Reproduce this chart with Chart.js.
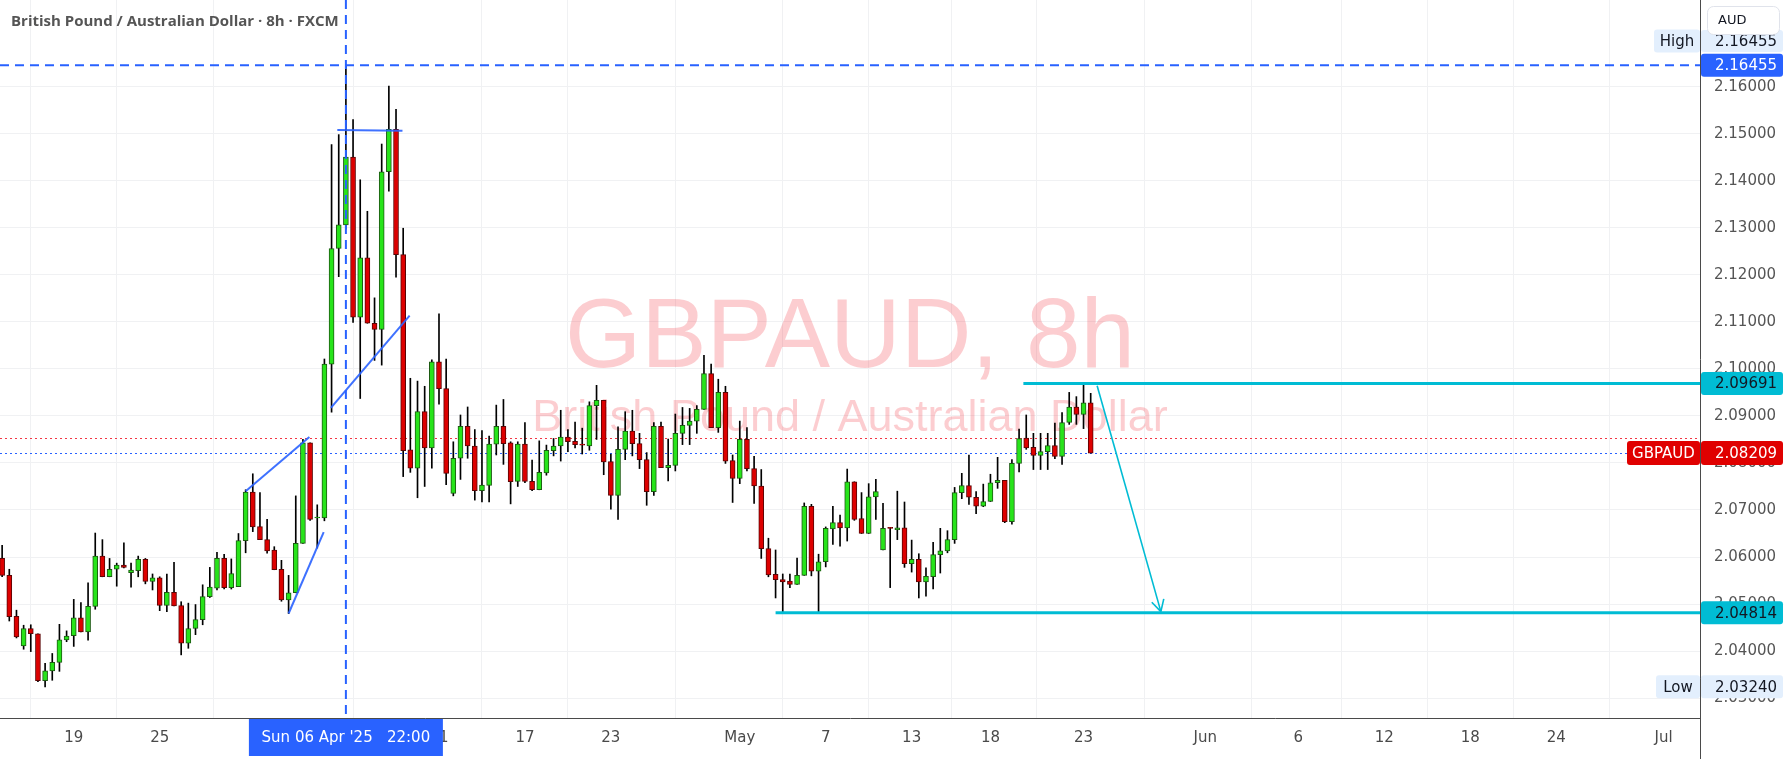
<!DOCTYPE html>
<html>
<head>
<meta charset="utf-8">
<script src="https://cdn.jsdelivr.net/npm/chart.js@4.4.0/dist/chart.umd.min.js"></script>
<style>
    html, body { margin: 0; padding: 0; background: #ffffff; overflow: hidden; }
    canvas { display: block; }
</style>
</head>
<body>
<canvas id="gestione_canva" width="1788" height="759"></canvas>
<script>
// Candele GBPAUD 8h, indice 1..153
const aperture = [
    2.0597, 2.0561, 2.0474, 2.0411, 2.0448, 2.0437, 2.0337, 2.0358, 2.0376, 2.0424,
    2.0433, 2.0471, 2.0441, 2.0495, 2.0602, 2.0558, 2.0574, 2.0583, 2.0567, 2.0571,
    2.0595, 2.0548, 2.0556, 2.0497, 2.0525, 2.0497, 2.0417, 2.0448, 2.0467, 2.0516,
    2.0534, 2.0597, 2.0535, 2.0537, 2.0635, 2.0738, 2.0665, 2.0637, 2.0615, 2.0574,
    2.0509, 2.0524, 2.0629, 2.0843, 2.0683, 2.0683, 2.1010, 2.1256, 2.1306, 2.1450,
    2.1110, 2.1236, 2.1097, 2.1084, 2.1419, 2.1509, 2.1243, 2.0828, 2.0789, 2.0909,
    2.0832, 2.1015, 2.0958, 2.0735, 2.0810, 2.0878, 2.0836, 2.0741, 2.0752, 2.0840,
    2.0878, 2.0843, 2.0761, 2.0840, 2.0761, 2.0743, 2.0779, 2.0826, 2.0836, 2.0855,
    2.0846, 2.0840, 2.0836, 2.0922, 2.0933, 2.0803, 2.0731, 2.0829, 2.0868, 2.0841,
    2.0807, 2.0739, 2.0878, 2.0790, 2.0795, 2.0863, 2.0880, 2.0889, 2.0914, 2.0990,
    2.0875, 2.0950, 2.0805, 2.0767, 2.0850, 2.0788, 2.0751, 2.0618, 2.0563, 2.0552,
    2.0549, 2.0542, 2.0561, 2.0708, 2.0570, 2.0590, 2.0660, 2.0673, 2.0662, 2.0760,
    2.0682, 2.0650, 2.0728, 2.0615, 2.0663, 2.0658, 2.0662, 2.0586, 2.0595, 2.0547,
    2.0558, 2.0605, 2.0613, 2.0637, 2.0737, 2.0752, 2.0727, 2.0708, 2.0718, 2.0758,
    2.0763, 2.0675, 2.0799, 2.0853, 2.0833, 2.0816, 2.0824, 2.0837, 2.0814, 2.0886,
    2.0919, 2.0903, 2.0928
];
const massimi = [
    2.0625, 2.0574, 2.0487, 2.0455, 2.0456, 2.0437, 2.0374, 2.0395, 2.0457, 2.0443,
    2.0510, 2.0503, 2.0545, 2.0651, 2.0637, 2.0597, 2.0587, 2.0630, 2.0587, 2.0602,
    2.0597, 2.0564, 2.0558, 2.0564, 2.0589, 2.0505, 2.0502, 2.0499, 2.0541, 2.0578,
    2.0610, 2.0606, 2.0596, 2.0650, 2.0743, 2.0777, 2.0737, 2.0680, 2.0622, 2.0593,
    2.0561, 2.0730, 2.0850, 2.0843, 2.0711, 2.1021, 2.1477, 2.1498, 2.16455, 2.1530,
    2.1402, 2.1335, 2.1151, 2.1478, 2.1601, 2.1552, 2.1299, 2.0980, 2.0974, 2.0963,
    2.1019, 2.1117, 2.1021, 2.0845, 2.0902, 2.0919, 2.0871, 2.0869, 2.0857, 2.0923,
    2.0935, 2.0845, 2.0845, 2.0886, 2.0806, 2.0847, 2.0838, 2.0852, 2.0912, 2.0871,
    2.0887, 2.0874, 2.0930, 2.0965, 2.0933, 2.0819, 2.0877, 2.0909, 2.0912, 2.0863,
    2.0822, 2.0886, 2.0887, 2.0851, 2.0904, 2.0918, 2.0916, 2.0922, 2.1029, 2.1010,
    2.0978, 2.0963, 2.0817, 2.0889, 2.0875, 2.0814, 2.0786, 2.0640, 2.0615, 2.0564,
    2.0564, 2.0598, 2.0715, 2.0712, 2.0606, 2.0664, 2.0708, 2.0689, 2.0787, 2.0760,
    2.0737, 2.0756, 2.0765, 2.0714, 2.0663, 2.0740, 2.0717, 2.0636, 2.0607, 2.0577,
    2.0631, 2.0661, 2.0656, 2.0748, 2.0778, 2.0817, 2.0739, 2.0755, 2.0776, 2.0812,
    2.0763, 2.0807, 2.0872, 2.0902, 2.0863, 2.0863, 2.0863, 2.0885, 2.0907, 2.0950,
    2.0941, 2.09691, 2.0948
];
const minimi = [
    2.0558, 2.0464, 2.0428, 2.0404, 2.0399, 2.0335, 2.0324, 2.0338, 2.0357, 2.0420,
    2.0410, 2.0441, 2.0423, 2.0489, 2.0558, 2.0558, 2.0538, 2.0577, 2.0536, 2.0558,
    2.0543, 2.0530, 2.0486, 2.0484, 2.0496, 2.0392, 2.0406, 2.0435, 2.0456, 2.0514,
    2.0530, 2.0532, 2.0532, 2.0537, 2.0609, 2.0654, 2.0637, 2.0608, 2.0573, 2.0506,
    2.0480, 2.0524, 2.0629, 2.0678, 2.0619, 2.0677, 2.0908, 2.1196, 2.1297, 2.1099,
    2.0937, 2.1097, 2.1018, 2.1008, 2.1378, 2.1195, 2.0771, 2.0780, 2.0726, 2.0750,
    2.0789, 2.0925, 2.0754, 2.0730, 2.0765, 2.0810, 2.0721, 2.0717, 2.0717, 2.0817,
    2.0797, 2.0713, 2.0750, 2.0758, 2.0741, 2.0743, 2.0774, 2.0815, 2.0804, 2.0824,
    2.0832, 2.0819, 2.0827, 2.0850, 2.0775, 2.0702, 2.0680, 2.0807, 2.0815, 2.0788,
    2.0710, 2.0731, 2.0790, 2.0762, 2.0783, 2.0839, 2.0839, 2.0863, 2.0914, 2.0875,
    2.0865, 2.0799, 2.0716, 2.0756, 2.0783, 2.0714, 2.0597, 2.0558, 2.0513, 2.04814,
    2.0535, 2.0542, 2.0561, 2.0560, 2.0483, 2.0579, 2.0627, 2.0623, 2.0634, 2.0678,
    2.0650, 2.0650, 2.0680, 2.0615, 2.0535, 2.0637, 2.0578, 2.0568, 2.0513, 2.0517,
    2.0532, 2.0566, 2.0609, 2.0629, 2.0724, 2.0712, 2.0692, 2.0707, 2.0718, 2.0746,
    2.0673, 2.0670, 2.0781, 2.0829, 2.0786, 2.0786, 2.0786, 2.0809, 2.0797, 2.0882,
    2.0882, 2.0873, 2.0821
];
const chiusure = [
    2.0561, 2.0473, 2.0430, 2.0448, 2.0437, 2.0337, 2.0358, 2.0376, 2.0424, 2.0432,
    2.0471, 2.0441, 2.0495, 2.0602, 2.0558, 2.0574, 2.0583, 2.0578, 2.0572, 2.0595,
    2.0548, 2.0556, 2.0497, 2.0525, 2.0496, 2.0417, 2.0448, 2.0467, 2.0516, 2.0536,
    2.0597, 2.0535, 2.0565, 2.0635, 2.0738, 2.0664, 2.0637, 2.0613, 2.0573, 2.0509,
    2.0524, 2.0629, 2.0843, 2.0680, 2.0684, 2.1010, 2.1256, 2.1306, 2.1450, 2.1110,
    2.1236, 2.1097, 2.1084, 2.1419, 2.1509, 2.1243, 2.0826, 2.0789, 2.0909, 2.0832,
    2.1015, 2.0958, 2.0778, 2.0810, 2.0878, 2.0836, 2.0741, 2.0753, 2.0840, 2.0878,
    2.0841, 2.0760, 2.0840, 2.0761, 2.0743, 2.0780, 2.0827, 2.0836, 2.0855, 2.0845,
    2.0839, 2.0838, 2.0922, 2.0933, 2.0802, 2.0731, 2.0829, 2.0868, 2.0841, 2.0807,
    2.0739, 2.0878, 2.0790, 2.0795, 2.0863, 2.0880, 2.0889, 2.0914, 2.0990, 2.0875,
    2.0950, 2.0804, 2.0767, 2.0850, 2.0788, 2.0751, 2.0618, 2.0562, 2.0552, 2.0547,
    2.0542, 2.0561, 2.0708, 2.0570, 2.0590, 2.0661, 2.0673, 2.0662, 2.0760, 2.0680,
    2.0650, 2.0728, 2.0739, 2.0661, 2.0661, 2.0662, 2.0586, 2.0595, 2.0547, 2.0559,
    2.0605, 2.0613, 2.0637, 2.0737, 2.0752, 2.0727, 2.0708, 2.0718, 2.0758, 2.0763,
    2.0675, 2.0799, 2.0852, 2.0832, 2.0816, 2.0824, 2.0837, 2.0814, 2.0886, 2.0919,
    2.0903, 2.0928, 2.08209
];

// asse del tempo: indice candela -> etichetta
const tickIndici = [11, 23, 38, 62, 74, 86, 104, 116, 128, 139, 152, 169, 182, 194, 206, 218, 233];
const tickEtichette = ["19", "25", "Apr", "11", "17", "23", "May", "7", "13", "18", "23", "Jun", "6", "12", "18", "24", "Jul"];
const tickPrezzi = [2.03, 2.04, 2.05, 2.06, 2.07, 2.08, 2.09, 2.10, 2.11, 2.12, 2.13, 2.14, 2.15, 2.16];

// livelli e disegni (indice, prezzo)
const massimoAssoluto = 2.16455;
const minimoAssoluto = 2.03240;
const resistenza = 2.09691;
const supporto = 2.04814;
const ultimoPrezzo = 2.08209;
const lineaRossa = 2.0853;
const indiceCrosshair = 49;
const trendline = [
    [35, 2.0740, 43.9, 2.0855],
    [41, 2.0480, 45.9, 2.0653],
    [46.9, 2.0917, 57.9, 2.1113],
    [47.8, 2.1508, 56.9, 2.1506]
];
const inizioResistenza = 143.6;
const inizioSupporto = 109;
const freccia = [153.9, 2.0964, 162.8, 2.0484];

const verde = "#27e41a", bordoVerde = "#1c5a12";
const rosso = "#dd0000", bordoRosso = "#5a0404";
const fontAssi = "15px 'DejaVu Sans'";

let corpi = [];
let stoppini = [];
for (let i = 0; i < aperture.length; i++) {
    corpi.push({x: i + 1, y: [aperture[i], chiusure[i]]});
    stoppini.push({x: i + 1, y: [minimi[i], massimi[i]]});
}

function etichetta(ctx, x, y, w, h, sfondo, testo, colore, allinea) {
    ctx.fillStyle = sfondo;
    ctx.beginPath();
    ctx.roundRect(x, y - h / 2, w, h, 3);
    ctx.fill();
    ctx.fillStyle = colore;
    ctx.font = fontAssi;
    ctx.textBaseline = "middle";
    if (allinea === "center") {
        ctx.textAlign = "center";
        ctx.fillText(testo, x + w / 2, y + 1);
    } else {
        ctx.textAlign = "left";
        ctx.fillText(testo, x + 14, y + 1);
    }
}

function linea(ctx, x1, y1, x2, y2) {
    ctx.beginPath();
    ctx.moveTo(x1, y1);
    ctx.lineTo(x2, y2);
    ctx.stroke();
}

const disegni = {
    id: "disegni",
    beforeDatasetsDraw(chart) {
        const ctx = chart.ctx;
        const a = chart.chartArea;
        const sy = chart.scales.y;
        ctx.save();
        // filigrana
        const cx = (a.left + a.right) / 2;
        ctx.fillStyle = "rgba(242, 54, 69, 0.25)";
        ctx.textAlign = "center";
        ctx.textBaseline = "alphabetic";
        ctx.font = "98px 'Liberation Sans'";
        ctx.fillText("GBPAUD, 8h", cx, 367);
        ctx.font = "45px 'Liberation Sans'";
        ctx.fillText("British Pound / Australian Dollar", cx, 431);
        // linee punteggiate
        ctx.lineWidth = 1;
        ctx.setLineDash([2, 3]);
        ctx.strokeStyle = "#f23645";
        let y = Math.round(sy.getPixelForValue(lineaRossa)) + 0.5;
        linea(ctx, a.left, y, a.right, y);
        ctx.strokeStyle = "#2962ff";
        y = Math.round(sy.getPixelForValue(ultimoPrezzo)) + 0.5;
        linea(ctx, a.left, y, a.right, y);
        ctx.restore();
    },
    afterDatasetsDraw(chart) {
        const ctx = chart.ctx;
        const a = chart.chartArea;
        const sx = chart.scales.x, sy = chart.scales.y;
        ctx.save();
        ctx.beginPath();
        ctx.rect(a.left, a.top, a.right - a.left, a.bottom - a.top);
        ctx.clip();

        // crosshair e massimo
        ctx.strokeStyle = "#2962ff";
        ctx.lineWidth = 2;
        ctx.setLineDash([9, 6]);
        let xc = sx.getPixelForValue(indiceCrosshair);
        linea(ctx, xc, a.top, xc, a.bottom);
        let yh = sy.getPixelForValue(massimoAssoluto);
        linea(ctx, a.left, yh, a.right, yh);
        ctx.setLineDash([]);

        // trendline blu
        ctx.strokeStyle = "rgba(41, 98, 255, 0.9)";
        ctx.lineWidth = 2;
        trendline.forEach(t => {
            linea(ctx, sx.getPixelForValue(t[0]), sy.getPixelForValue(t[1]),
                       sx.getPixelForValue(t[2]), sy.getPixelForValue(t[3]));
        });

        // livelli ciano
        ctx.strokeStyle = "#00bcd4";
        ctx.lineWidth = 3;
        let yr = sy.getPixelForValue(resistenza);
        linea(ctx, sx.getPixelForValue(inizioResistenza), yr, a.right, yr);
        let ys = sy.getPixelForValue(supporto);
        linea(ctx, sx.getPixelForValue(inizioSupporto), ys, a.right, ys);

        // freccia
        ctx.lineWidth = 1.6;
        const x1 = sx.getPixelForValue(freccia[0]), y1 = sy.getPixelForValue(freccia[1]);
        const x2 = sx.getPixelForValue(freccia[2]), y2 = sy.getPixelForValue(freccia[3]);
        linea(ctx, x1, y1, x2, y2);
        const ang = Math.atan2(y2 - y1, x2 - x1);
        const lung = 13;
        linea(ctx, x2, y2, x2 - lung * Math.cos(ang - 0.5), y2 - lung * Math.sin(ang - 0.5));
        linea(ctx, x2, y2, x2 - lung * Math.cos(ang + 0.5), y2 - lung * Math.sin(ang + 0.5));
        ctx.restore();
    },
    afterDraw(chart) {
        const ctx = chart.ctx;
        const a = chart.chartArea;
        const sx = chart.scales.x, sy = chart.scales.y;
        ctx.save();
        // prolungamento asse verticale
        ctx.strokeStyle = "#4a4a4a";
        ctx.lineWidth = 1;
        linea(ctx, a.right + 0.5, a.bottom, a.right + 0.5, chart.height);

        const ax = a.right + 1;
        const aw = 82;
        // etichette sull'asse prezzi
        etichetta(ctx, ax, 41, aw, 22, "#e3effd", "2.16455", "#131722");
        etichetta(ctx, a.right - 46, 41, 46, 23, "#e3effd", "High", "#131722", "center");
        etichetta(ctx, ax, sy.getPixelForValue(massimoAssoluto), aw, 23, "#2962ff", "2.16455", "#ffffff");
        etichetta(ctx, ax, sy.getPixelForValue(resistenza), aw, 23, "#00bcd4", "2.09691", "#131722");
        etichetta(ctx, ax, sy.getPixelForValue(ultimoPrezzo), aw, 24, "#e00000", "2.08209", "#ffffff");
        etichetta(ctx, a.right - 73, sy.getPixelForValue(ultimoPrezzo), 73, 24, "#e00000", "GBPAUD", "#ffffff", "center");
        etichetta(ctx, ax, sy.getPixelForValue(supporto), aw, 23, "#00bcd4", "2.04814", "#131722");
        etichetta(ctx, ax, sy.getPixelForValue(minimoAssoluto), aw, 23, "#e3effd", "2.03240", "#131722");
        etichetta(ctx, a.right - 44, sy.getPixelForValue(minimoAssoluto), 44, 23, "#e3effd", "Low", "#131722", "center");

        // riquadro valuta
        ctx.fillStyle = "#ffffff";
        ctx.strokeStyle = "#e0e3eb";
        ctx.beginPath();
        ctx.roundRect(1707.5, 6.5, 72, 28, 6);
        ctx.fill();
        ctx.stroke();
        ctx.fillStyle = "#131722";
        ctx.font = "13px 'DejaVu Sans'";
        ctx.textAlign = "left";
        ctx.textBaseline = "middle";
        ctx.fillText("AUD", 1718, 21);

        // data del crosshair
        const xc = sx.getPixelForValue(indiceCrosshair);
        ctx.fillStyle = "#2962ff";
        ctx.fillRect(xc - 97, a.bottom + 1, 194, 37);
        ctx.fillStyle = "#ffffff";
        ctx.font = fontAssi;
        ctx.textAlign = "center";
        ctx.fillText("Sun 06 Apr '25   22:00", xc, a.bottom + 20);

        // titolo
        ctx.fillStyle = "#555555";
        ctx.font = "bold 15px 'Open Sans'";
        ctx.textAlign = "left";
        ctx.textBaseline = "alphabetic";
        ctx.fillText("British Pound / Australian Dollar \u00b7 8h \u00b7 FXCM", 11, 26);
        ctx.restore();
    }
};

new Chart("gestione_canva", {
    type: "bar",
    data: {
        datasets: [{
            data: corpi,
            backgroundColor: c => chiusure[c.dataIndex] >= aperture[c.dataIndex] ? verde : rosso,
            borderColor: c => chiusure[c.dataIndex] >= aperture[c.dataIndex] ? bordoVerde : bordoRosso,
            borderWidth: 1,
            borderSkipped: false,
            barThickness: 5,
            minBarLength: 1,
            grouped: false,
            order: 0
        }, {
            data: stoppini,
            backgroundColor: "#000000",
            borderWidth: 0,
            barThickness: 1,
            grouped: false,
            order: 1
        }]
    },
    options: {
        responsive: false,
        animation: false,
        layout: {padding: 0},
        plugins: {legend: {display: false}, tooltip: {enabled: false}},
        scales: {
            x: {
                type: "linear",
                min: 0.7014,
                max: 238.08,
                offset: false,
                grid: {color: "#f0f1f3", drawTicks: false},
                border: {color: "#4a4a4a"},
                ticks: {
                    font: {family: "DejaVu Sans", size: 15},
                    color: "#4a4a4a",
                    padding: 11,
                    maxRotation: 0,
                    autoSkip: false,
                    callback: v => tickEtichette[tickIndici.indexOf(v)]
                },
                afterBuildTicks: s => { s.ticks = tickIndici.map(v => ({value: v})); },
                afterFit: s => { s.height = 41; s.paddingLeft = 0; s.paddingRight = 0; }
            },
            y: {
                position: "right",
                min: 2.02578,
                max: 2.17842,
                grid: {color: "#f0f1f3", drawTicks: false},
                border: {color: "#4a4a4a"},
                ticks: {
                    font: {family: "DejaVu Sans", size: 15},
                    color: "#555555",
                    padding: 14,
                    callback: v => v.toFixed(5)
                },
                afterBuildTicks: s => { s.ticks = tickPrezzi.map(v => ({value: v})); },
                afterFit: s => { s.width = 88; s.paddingTop = 0; s.paddingBottom = 0; }
            }
        }
    },
    plugins: [disegni]
});
</script>
</body>
</html>
